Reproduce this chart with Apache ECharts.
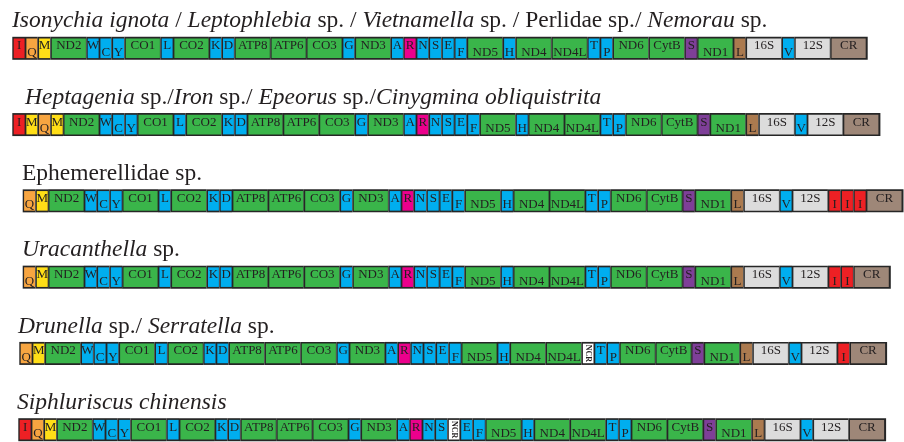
<!DOCTYPE html>
<html><head><meta charset="utf-8">
<script src="https://cdn.jsdelivr.net/npm/echarts@6/dist/echarts.min.js"></script>
<style>html,body{margin:0;padding:0;background:#fff}#c{width:904px;height:442px}</style>
</head><body><div id="c"></div>
<script>
// ---- data: species groups (rich markup: {i|...} = italic) ----
const titles = [
  '{i|Isonychia ignota} / {i|Leptophlebia} sp. / {i|Vietnamella} sp. / Perlidae sp./ {i|Nemorau} sp.',
  '{i|Heptagenia} sp./{i|Iron} sp./ {i|Epeorus} sp./{i|Cinygmina obliquistrita}',
  'Ephemerellidae sp.',
  '{i|Uracanthella} sp.',
  '{i|Drunella} sp./ {i|Serratella} sp.',
  '{i|Siphluriscus chinensis}'
];
// ---- data: gene orders ("-" = minus strand) ----
const order1 = ['I','-Q','M','ND2','W','-C','-Y','CO1','L1','CO2','K','D','ATP8','ATP6','CO3','G','ND3','A','R','N','S1','E','-F','-ND5','-H','-ND4','-ND4L','T','-P','ND6','CytB','S2','-ND1','-L2','-16S','-V','-12S','CR'];
const order2 = ['I','M','-Q','M','ND2','W','-C','-Y','CO1','L1','CO2','K','D','ATP8','ATP6','CO3','G','ND3','A','R','N','S1','E','-F','-ND5','-H','-ND4','-ND4L','T','-P','ND6','CytB','S2','-ND1','-L2','-16S','-V','-12S','CR'];
const order3 = ['-Q','M','ND2','W','-C','-Y','CO1','L1','CO2','K','D','ATP8','ATP6','CO3','G','ND3','A','R','N','S1','E','-F','-ND5','-H','-ND4','-ND4L','T','-P','ND6','CytB','S2','-ND1','-L2','-16S','-V','-12S','-I','-I','-I','CR'];
const order4 = ['-Q','M','ND2','W','-C','-Y','CO1','L1','CO2','K','D','ATP8','ATP6','CO3','G','ND3','A','R','N','S1','E','-F','-ND5','-H','-ND4','-ND4L','T','-P','ND6','CytB','S2','-ND1','-L2','-16S','-V','-12S','-I','-I','CR'];
const order5 = ['-Q','M','ND2','W','-C','-Y','CO1','L1','CO2','K','D','ATP8','ATP6','CO3','G','ND3','A','R','N','S1','E','-F','-ND5','-H','-ND4','-ND4L','NCR','T','-P','ND6','CytB','S2','-ND1','-L2','-16S','-V','-12S','-I','CR'];
const order6 = ['I','-Q','M','ND2','W','-C','-Y','CO1','L1','CO2','K','D','ATP8','ATP6','CO3','G','ND3','A','R','N','S1','NCR','E','-F','-ND5','-H','-ND4','-ND4L','T','-P','ND6','CytB','S2','-ND1','-L2','-16S','-V','-12S','CR'];
const orders = [order1, order2, order3, order4, order5, order6];

// ---- layout / style (not data) ----
const rowStart = [12.3, 12.3, 22.7, 22.7, 19.3, 18.3];
const titleX = [12, 25, 22, 22, 18, 17];
const W_T = 12.7, W_L = 35.9, W_NCR = 12.4;
const colors = {
  I:'#ED2024', Q:'#F7A541', M:'#FFDE17', R:'#EC008C', S2:'#7E3F98', L2:'#AB7A4F',
  trna:'#00AEEF', prot:'#3AB54A', rrna:'#DCDCDC', CR:'#9E8778', NCR:'#FFFFFF'
};
const prot = ['ND1','ND2','ND3','ND4','ND4L','ND5','ND6','CO1','CO2','CO3','ATP6','ATP8','CytB'];
function geneInfo(tok){
  const minus = tok[0] === '-';
  const g = minus ? tok.slice(1) : tok;
  let kind, color, label = g, width = W_T;
  if (prot.indexOf(g) >= 0) { kind='prot'; color=colors.prot; width=W_L; }
  else if (g === '16S' || g === '12S') { kind='rrna'; color=colors.rrna; width=W_L; }
  else if (g === 'CR') { kind='cr'; color=colors.CR; width=W_L; }
  else if (g === 'NCR') { kind='ncr'; color=colors.NCR; width=W_NCR; }
  else { kind='trna'; color=colors[g] || colors.trna; label=g.replace(/[12]$/,''); }
  return {minus, g, kind, color, label, width};
}

const genes = [];
orders.forEach((ord, r) => {
  let x = rowStart[r];
  ord.forEach((tok, i) => {
    const info = geneInfo(tok);
    genes.push({value:[x, x + info.width, r], info, last: i === ord.length - 1});
    x += info.width;
  });
});

const FONT = '"Liberation Serif","Times New Roman",serif';
const chart = echarts.init(document.getElementById('c'), null, {renderer:'canvas'});
chart.setOption({
  animation:false,
  grid:{left:0,right:0,top:48.3,bottom:12.3},
  xAxis:{type:'value',min:0,max:904,show:false},
  yAxis:{type:'category',data:titles.map((t,i)=>'row'+i),inverse:true,boundaryGap:false,show:false},
  series:[
    {
      type:'custom',
      data: genes.map(d => d.value),
      renderItem(params, api){
        const d = genes[params.dataIndex];
        const p0 = api.coord([api.value(0), api.value(2)]);
        const p1 = api.coord([api.value(1), api.value(2)]);
        const cy = p0[1], w = p1[0] - p0[0];
        const info = d.info;
        const children = [
          {type:'rect', shape:{x:p0[0], y:cy-11.5, width:w + (d.last ? 1.6 : 0), height:23}, style:{fill:'#262626'}},
          {type:'rect', shape:{x:p0[0]+1.4, y:cy-9.8, width:w-1.8, height:19.6}, style:{fill:info.color}}
        ];
        const cx = p0[0] + 1.4 + (w-1.8)/2;
        if (info.kind === 'ncr') {
          children.push({type:'text', x:cx, y:cy, rotation:-Math.PI/2,
            style:{text:'NCR', font:'bold 8px ' + FONT, fill:'#231F20', align:'center', verticalAlign:'middle'}});
        } else {
          const down = info.minus && info.kind !== 'rrna';
          children.push({type:'text', x:cx, y:cy + (down ? 4 : -2.5),
            style:{text:info.label, font:'13px ' + FONT, fill:'#231F20', align:'center', verticalAlign:'middle'}});
        }
        return {type:'group', children};
      }
    },
    {
      type:'custom',
      data: titles.map((t,i) => [0, i]),
      renderItem(params, api){
        const r = api.value(1);
        const p = api.coord([0, r]);
        return {type:'text', x:titleX[r], y:p[1]-27,
          style:{text:titles[r], font:'23.5px ' + FONT, fill:'#231F20', verticalAlign:'middle', align:'left',
            rich:{i:{fontStyle:'italic', fontSize:23.5, fontFamily:FONT, fill:'#231F20'}}}};
      }
    }
  ]
});
</script></body></html>
